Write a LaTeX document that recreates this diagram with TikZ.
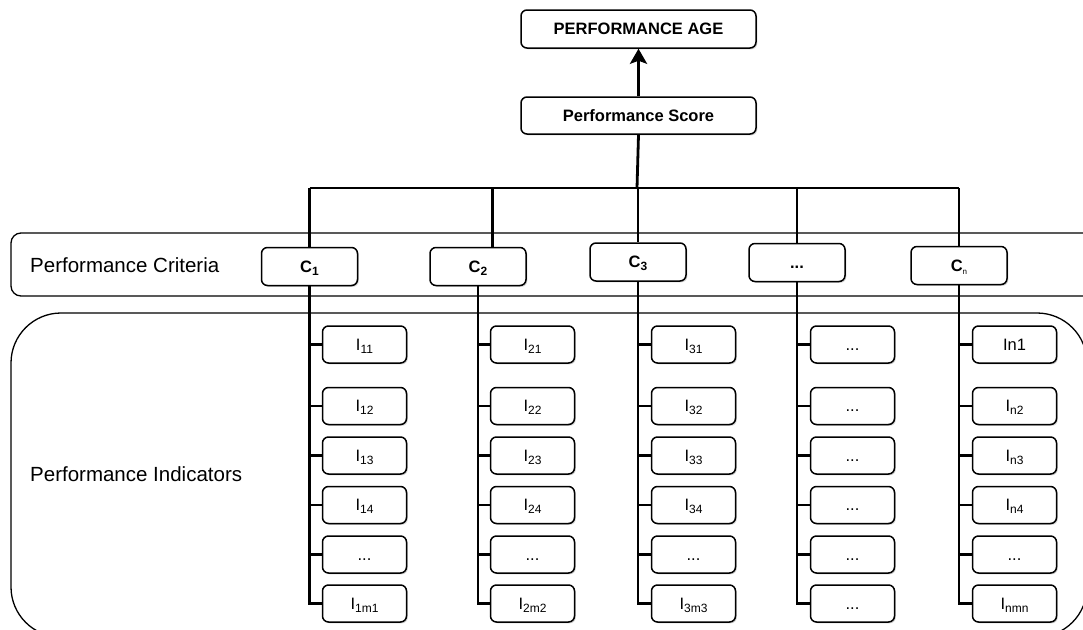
\documentclass[tikz,border=0pt]{standalone}
\usepackage{fontspec}
\setmainfont{Liberation Sans}
\usetikzlibrary{arrows.meta,shadows}

% small lowered index in text fonts
\newcommand\lowidx[2][12]{\raisebox{-0.35ex}{\fontsize{#1}{#1}\selectfont #2}}
% placeholder for unnamed items
\newcommand\ddd{...}

\tikzset{
  boxbase/.style={draw=black, line width=1.5pt, rounded corners=6pt, fill=white,
    inner sep=0pt, text height=11.5pt, text depth=0pt,
    drop shadow={shadow xshift=1.3pt, shadow yshift=-1.3pt, opacity=0.35}},
  band/.style={draw=black, line width=1.3pt, rounded corners=#1},
  titlebox/.style={boxbase, minimum width=235pt, minimum height=37pt,
    font=\fontsize{16.5}{18}\selectfont\bfseries},
  critbox/.style={boxbase, minimum width=96pt, minimum height=38pt,
    font=\fontsize{16.5}{18}\selectfont\bfseries},
  indbox/.style={boxbase, minimum width=84pt, minimum height=37pt,
    font=\fontsize{16.5}{18}\selectfont},
  wire/.style={draw=black, line width=2.8pt},
  bandlabel/.style={anchor=west, inner sep=0pt, font=\fontsize{20.5}{22}\selectfont},
}

\begin{document}
\begin{tikzpicture}[x=1pt, y=-1pt]
\useasboundingbox (0,0) rectangle (1083,629);

% background bands
\draw[band=10pt] (1110,233) -- (11,233) -- (11,296) -- (1110,296);
\draw[band=50pt] (1087,500) -- (1087,313) -- (11,313) -- (11,637) -- (1087,637) -- cycle;
\node[bandlabel] (lblcrit) at (30,265) {Performance Criteria};
\node[bandlabel] (lblind) at (30,474) {Performance Indicators};

% top boxes
\node[titlebox, minimum height=38pt] (age) at (638.5,29) {PERFORMANCE AGE};
\node[titlebox] (score) at (638.5,115.5) {Performance Score};

% criteria
\node[critbox] (c1) at (309.5,266.5) {C\lowidx{1}};
\node[critbox] (c2) at (478,266.5) {C\lowidx{2}};
\node[critbox] (c3) at (638,262) {C\lowidx{3}};
\node[critbox] (c4) at (797,262.5) {\ddd};
\node[critbox] (c5) at (959,265.5) {C\lowidx[8]{\mdseries n}};

% indicators
\foreach \col/\x/\labs in {
  1/364.5/{I\lowidx{11},I\lowidx{12},I\lowidx{13},I\lowidx{14},\ddd,I\lowidx{1m1}},
  2/532.5/{I\lowidx{21},I\lowidx{22},I\lowidx{23},I\lowidx{24},\ddd,I\lowidx{2m2}},
  3/693.5/{I\lowidx{31},I\lowidx{32},I\lowidx{33},I\lowidx{34},\ddd,I\lowidx{3m3}},
  4/852.5/{\ddd,\ddd,\ddd,\ddd,\ddd,\ddd},
  5/1014.5/{In1,I\lowidx{n2},I\lowidx{n3},I\lowidx{n4},\ddd,I\lowidx{nmn}}}{
  \foreach \lab [count=\r] in \labs {
    \pgfmathsetmacro\yy{{344.5,406,455.5,505,554.5,603.5}[\r-1]}
    \node[indbox] (i\col-\r) at (\x,\yy) {\lab};
  }
}

% score to age
\draw[line width=3pt, -{Stealth[length=15pt,width=17pt,inset=3pt]}] (score.north) -- (age.south);

% score to criteria bus
\coordinate (bus) at (637,188);
\draw[wire] (score.south) -- (bus);
\draw[wire] (c1.north |- bus) -- (c5.north |- bus);
\draw[wire] (c1.north |- bus) -- (c1.north);
\draw[wire] ([xshift=14.5pt]c2.north |- bus) -- ([xshift=14.5pt]c2.north);
\draw[wire] (c3.north |- bus) -- (c3.north);
\draw[wire] (c4.north |- bus) -- (c4.north);
\draw[wire] (c5.north |- bus) -- (c5.north);

% criteria to their indicators
\foreach \col in {1,...,5}{
  \draw[wire, line join=miter] (c\col.south) -- (c\col.south |- i\col-6.west) -- (i\col-6.west);
  \foreach \r in {1,...,5}{
    \draw[wire] (c\col.south |- i\col-\r.west) -- (i\col-\r.west);
  }
}
\end{tikzpicture}
\end{document}
